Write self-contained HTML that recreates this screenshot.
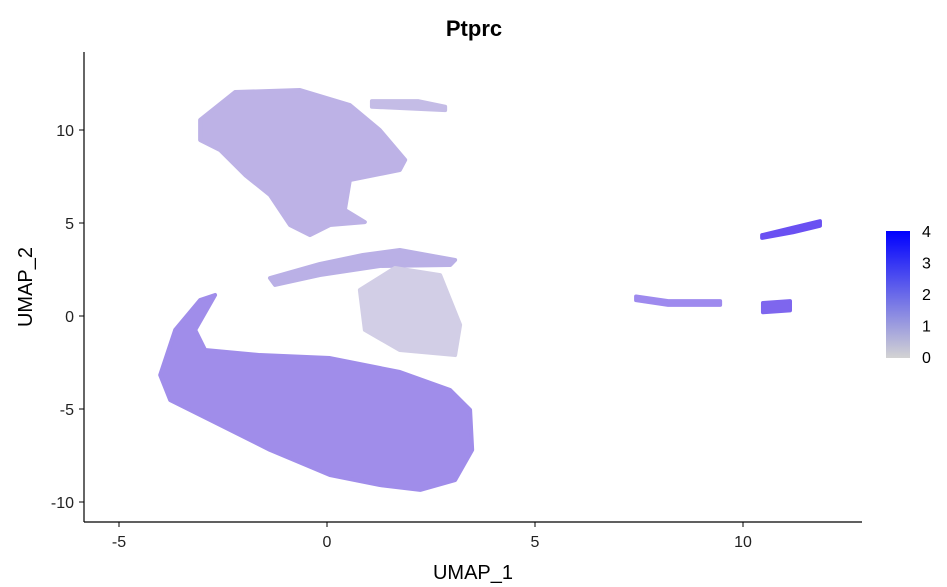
<!DOCTYPE html>
<html><head><meta charset="utf-8"><style>
html,body{margin:0;padding:0;background:#fff;}
svg{display:block;font-family:"Liberation Sans",sans-serif;}
</style></head><body>
<svg id="chart" width="947" height="587" viewBox="0 0 947 587">
<defs>
<linearGradient id="cbar" x1="0" y1="1" x2="0" y2="0">
<stop offset="0" stop-color="#d3d3d3"/><stop offset="1" stop-color="#0000ff"/>
</linearGradient>
</defs>
<text x="474" y="36" text-anchor="middle" font-size="22" font-weight="bold">Ptprc</text>
<g id="clusters"></g>
<line x1="84" y1="52" x2="84" y2="522" stroke="#000" stroke-width="1.2"/>
<line x1="84" y1="522" x2="862" y2="522" stroke="#000" stroke-width="1.2"/>
<g id="xticks"></g>
<g id="yticks"></g>
<text x="473" y="579" text-anchor="middle" font-size="20">UMAP_1</text>
<text transform="translate(32,287) rotate(-90)" text-anchor="middle" font-size="20">UMAP_2</text>
<rect x="886" y="231" width="24" height="127" fill="url(#cbar)"/>
<g id="legend"></g>
</svg>
<script>
const xTicks = [-5, 0, 5, 10];
const yTicks = [-10, -5, 0, 5, 10];
const legendValues = [0, 1, 2, 3, 4];
const topCluster = [[-3.05,10.54],[-2.21,12.04],[-0.65,12.15],[0.55,11.34],[1.27,10.0],[1.88,8.39],[1.75,7.85],[0.55,7.31],[0.43,5.70],[0.91,5.05],[0.07,4.89],[-0.41,4.35],[-0.89,4.89],[-1.37,6.5],[-1.97,7.58],[-2.57,8.92],[-3.05,9.46]];
const topStrand = [[1.08,11.55],[2.2,11.55],[2.84,11.25],[2.84,11.07],[1.08,11.25]];
const bottomBlob = [[-4.01,-3.17],[-3.65,-0.75],[-3.05,0.86],[-2.69,1.13],[-3.17,-0.75],[-2.93,-1.83],[-1.61,-2.1],[0.07,-2.26],[1.75,-3.01],[2.96,-3.98],[3.44,-5.05],[3.49,-7.2],[3.08,-8.82],[2.24,-9.35],[1.27,-9.09],[0.07,-8.55],[-1.37,-7.2],[-2.81,-5.59],[-3.77,-4.52]];
const arc = [[-1.37,2.04],[-0.17,2.8],[0.86,3.28],[1.75,3.55],[3.08,3.01],[2.96,2.74],[1.27,2.69],[-0.17,2.2],[-1.25,1.67]];
const middleCloud = [[0.79,1.4],[1.63,2.58],[2.72,2.2],[3.2,-0.48],[3.08,-2.1],[1.75,-1.83],[0.91,-0.75]];
const farStrand = [[10.46,4.35],[11.2,4.75],[11.85,5.1],[11.85,4.85],[11.2,4.5],[10.46,4.2]];
const farSmall = [[7.43,1.05],[8.2,0.8],[9.45,0.8],[9.45,0.6],[8.2,0.6],[7.43,0.85]];
const farBlob = [[10.48,0.7],[11.13,0.8],[11.13,0.3],[10.48,0.2]];
const clusterSets = [topCluster, topStrand, bottomBlob, arc, middleCloud, farStrand, farSmall, farBlob];
const clusterNames = ['top-cluster','top-strand','bottom-cluster','arc-cluster','middle-cloud','far-right-strand','far-right-small','far-right-blob'];
const clusterColors = ['#bdb2e6','#c4bce6','#a08dea','#bab0e6','#d2cee6','#6a50f2','#9e8aee','#7e66ee'];

const sx = v => 327 + v * 41.6;
const sy = v => 316 - v * 18.6;
const ns = 'http://www.w3.org/2000/svg';
const cg = document.getElementById('clusters');
clusterSets.forEach((pts, i) => {
  const p = document.createElementNS(ns, 'polygon');
  p.setAttribute('points', pts.map(d => sx(d[0]) + ',' + sy(d[1])).join(' '));
  p.setAttribute('fill', clusterColors[i]);
  p.setAttribute('stroke', clusterColors[i]);
  p.setAttribute('stroke-width', '4');
  p.setAttribute('stroke-linejoin', 'round');
  
  
  cg.appendChild(p);
});
const xg = document.getElementById('xticks');
xTicks.forEach(t => {
  const l = document.createElementNS(ns, 'line');
  l.setAttribute('x1', sx(t)); l.setAttribute('x2', sx(t));
  l.setAttribute('y1', 522); l.setAttribute('y2', 527);
  l.setAttribute('stroke', '#000');
  
  
  xg.appendChild(l);
  const tx = document.createElementNS(ns, 'text');
  tx.setAttribute('x', sx(t)); tx.setAttribute('y', 547);
  tx.setAttribute('text-anchor', 'middle'); tx.setAttribute('font-size', '16');
  tx.setAttribute('fill', '#222');
  tx.textContent = t;
  
  
  xg.appendChild(tx);
});
const yg = document.getElementById('yticks');
yTicks.forEach(t => {
  const l = document.createElementNS(ns, 'line');
  l.setAttribute('x1', 79); l.setAttribute('x2', 84);
  l.setAttribute('y1', sy(t)); l.setAttribute('y2', sy(t));
  l.setAttribute('stroke', '#000');
  
  
  yg.appendChild(l);
  const tx = document.createElementNS(ns, 'text');
  tx.setAttribute('x', 74); tx.setAttribute('y', sy(t) + 6);
  tx.setAttribute('text-anchor', 'end'); tx.setAttribute('font-size', '16');
  tx.setAttribute('fill', '#222');
  tx.textContent = t;
  
  
  yg.appendChild(tx);
});
const lg = document.getElementById('legend');
legendValues.forEach(v => {
  const y = 357 - v * 31.5;
  const tx = document.createElementNS(ns, 'text');
  tx.setAttribute('x', 922); tx.setAttribute('y', y + 6);
  tx.setAttribute('font-size', '16');
  tx.textContent = v;
  
  
  lg.appendChild(tx);
});
</script>
</body></html>
